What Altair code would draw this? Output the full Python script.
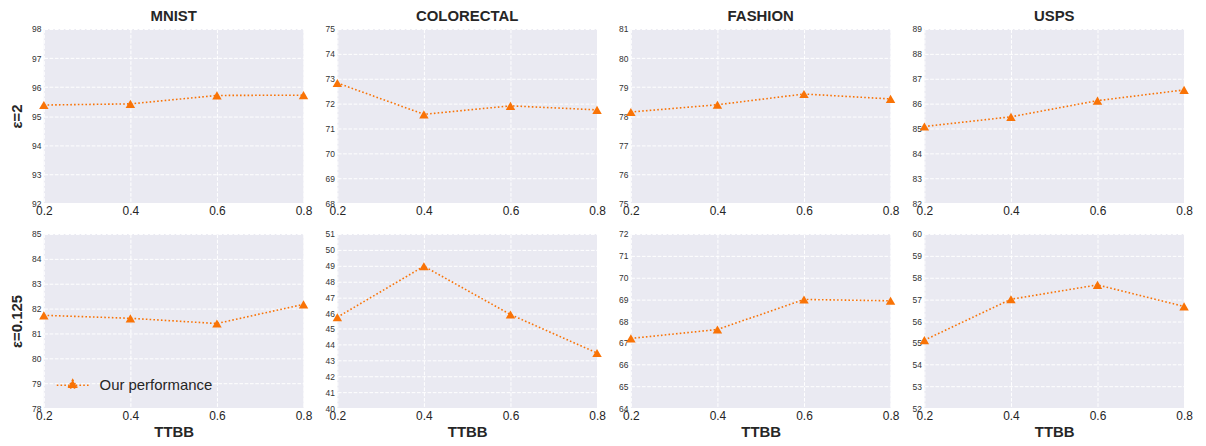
import altair as alt
import pandas as pd

# ---------------- data ----------------
ttbb = [0.2, 0.4, 0.6, 0.8]
datasets = ["MNIST", "COLORECTAL", "FASHION", "USPS"]
row_labels = ["ε=2", "ε=0.125"]
series_name = "Our performance"

# epsilon = 2 (top row)
mnist_eps2 = [95.38, 95.42, 95.71, 95.72]
colorectal_eps2 = [72.83, 71.57, 71.91, 71.75]
fashion_eps2 = [78.14, 78.39, 78.76, 78.59]
usps_eps2 = [85.08, 85.47, 86.12, 86.55]

# epsilon = 0.125 (bottom row)
mnist_eps0125 = [81.73, 81.61, 81.40, 82.17]
colorectal_eps0125 = [45.74, 48.96, 45.91, 43.48]
fashion_eps0125 = [67.20, 67.61, 68.99, 68.93]
usps_eps0125 = [55.12, 57.00, 57.66, 56.67]

# y-axis tick ranges (lo, hi)
yticks_eps2 = [(92, 98), (68, 75), (75, 81), (82, 89)]
yticks_eps0125 = [(78, 85), (40, 51), (64, 72), (52, 60)]

rows = [
    [mnist_eps2, colorectal_eps2, fashion_eps2, usps_eps2],
    [mnist_eps0125, colorectal_eps0125, fashion_eps0125, usps_eps0125],
]
yranges = [yticks_eps2, yticks_eps0125]

ORANGE = "#F97306"
TEXT = "#262626"
FONT = "Liberation Sans"
W, H = 261, 175


def panel(vals, yr, r, c):
    df = pd.DataFrame({"TTBB": ttbb, "acc": vals, "series": [series_name] * len(vals)})
    lo, hi = yr
    xaxis_kw = dict(values=ttbb, format=".1f", labelFlush=False, labelOverlap=False,
                    labelFontSize=12, labelPadding=2)
    if r == 1:
        xaxis_kw.update(title="TTBB", titleFontSize=15, titleFontWeight="bold",
                        titlePadding=4, titleColor=TEXT)
    else:
        xaxis_kw.update(title=None)
    yaxis_kw = dict(values=list(range(lo, hi + 1)), labelFlush=False, labelOverlap=False,
                    labelFontSize=8.5, labelPadding=3, labelColor="#333333")
    if c == 0:
        yaxis_kw.update(title=row_labels[r], titleFontSize=15, titleFontWeight="bold",
                        titlePadding=7, titleColor=TEXT)
    else:
        yaxis_kw.update(title=None)

    x = alt.X("TTBB:Q", scale=alt.Scale(domain=[0.2, 0.8], nice=False, zero=False),
              axis=alt.Axis(**xaxis_kw))
    y = alt.Y("acc:Q", scale=alt.Scale(domain=[lo, hi], nice=False, zero=False),
              axis=alt.Axis(**yaxis_kw))

    line = alt.Chart(df).mark_line(color=ORANGE, strokeDash=[1.6, 2.2], strokeWidth=1.6,
                                   clip=False).encode(x=x, y=y)
    if r == 1 and c == 0:
        pts = alt.Chart(df).mark_point(shape="triangle-up", filled=True, size=90,
                                       opacity=1, clip=False).encode(
            x=x, y=y,
            color=alt.Color("series:N", scale=alt.Scale(range=[ORANGE]),
                            legend=alt.Legend(
                                title=None, orient="none", legendX=12, legendY=135,
                                symbolType="M-1,0L1,0M0,-0.34L0.29,0.17L-0.29,0.17Z",
                                symbolSize=1024, symbolStrokeWidth=1.5,
                                symbolDash=[1.6, 2.2], symbolStrokeColor=ORANGE,
                                symbolFillColor=ORANGE, labelFontSize=15,
                                labelColor=TEXT, labelFont=FONT, labelOffset=10)))
    else:
        pts = alt.Chart(df).mark_point(shape="triangle-up", filled=True, size=90,
                                       opacity=1, color=ORANGE, clip=False).encode(x=x, y=y)
    ch = alt.layer(line, pts).properties(width=W, height=H)
    if r == 0:
        ch = ch.properties(title=datasets[c])
    return ch


panels = [panel(rows[r][c], yranges[r][c], r, c) for r in range(2) for c in range(4)]

chart = alt.concat(
    *panels, columns=4, spacing={"row": 31, "column": 34}, bounds="flush"
).resolve_scale(
    color="independent"
).properties(
    padding={"left": 1, "top": 0, "right": 5, "bottom": 5}
).configure(
    font=FONT
).configure_view(
    fill="#EAEAF2", strokeWidth=0
).configure_axis(
    domain=False, ticks=False, grid=True, gridColor="white", gridDash=[3.7, 1.6],
    gridWidth=1, labelColor=TEXT, labelFont=FONT, titleFont=FONT
).configure_title(
    fontSize=15, fontWeight="bold", color=TEXT, font=FONT, offset=1
)

chart.save("out.html", embed_options={"renderer": "svg", "actions": False})
